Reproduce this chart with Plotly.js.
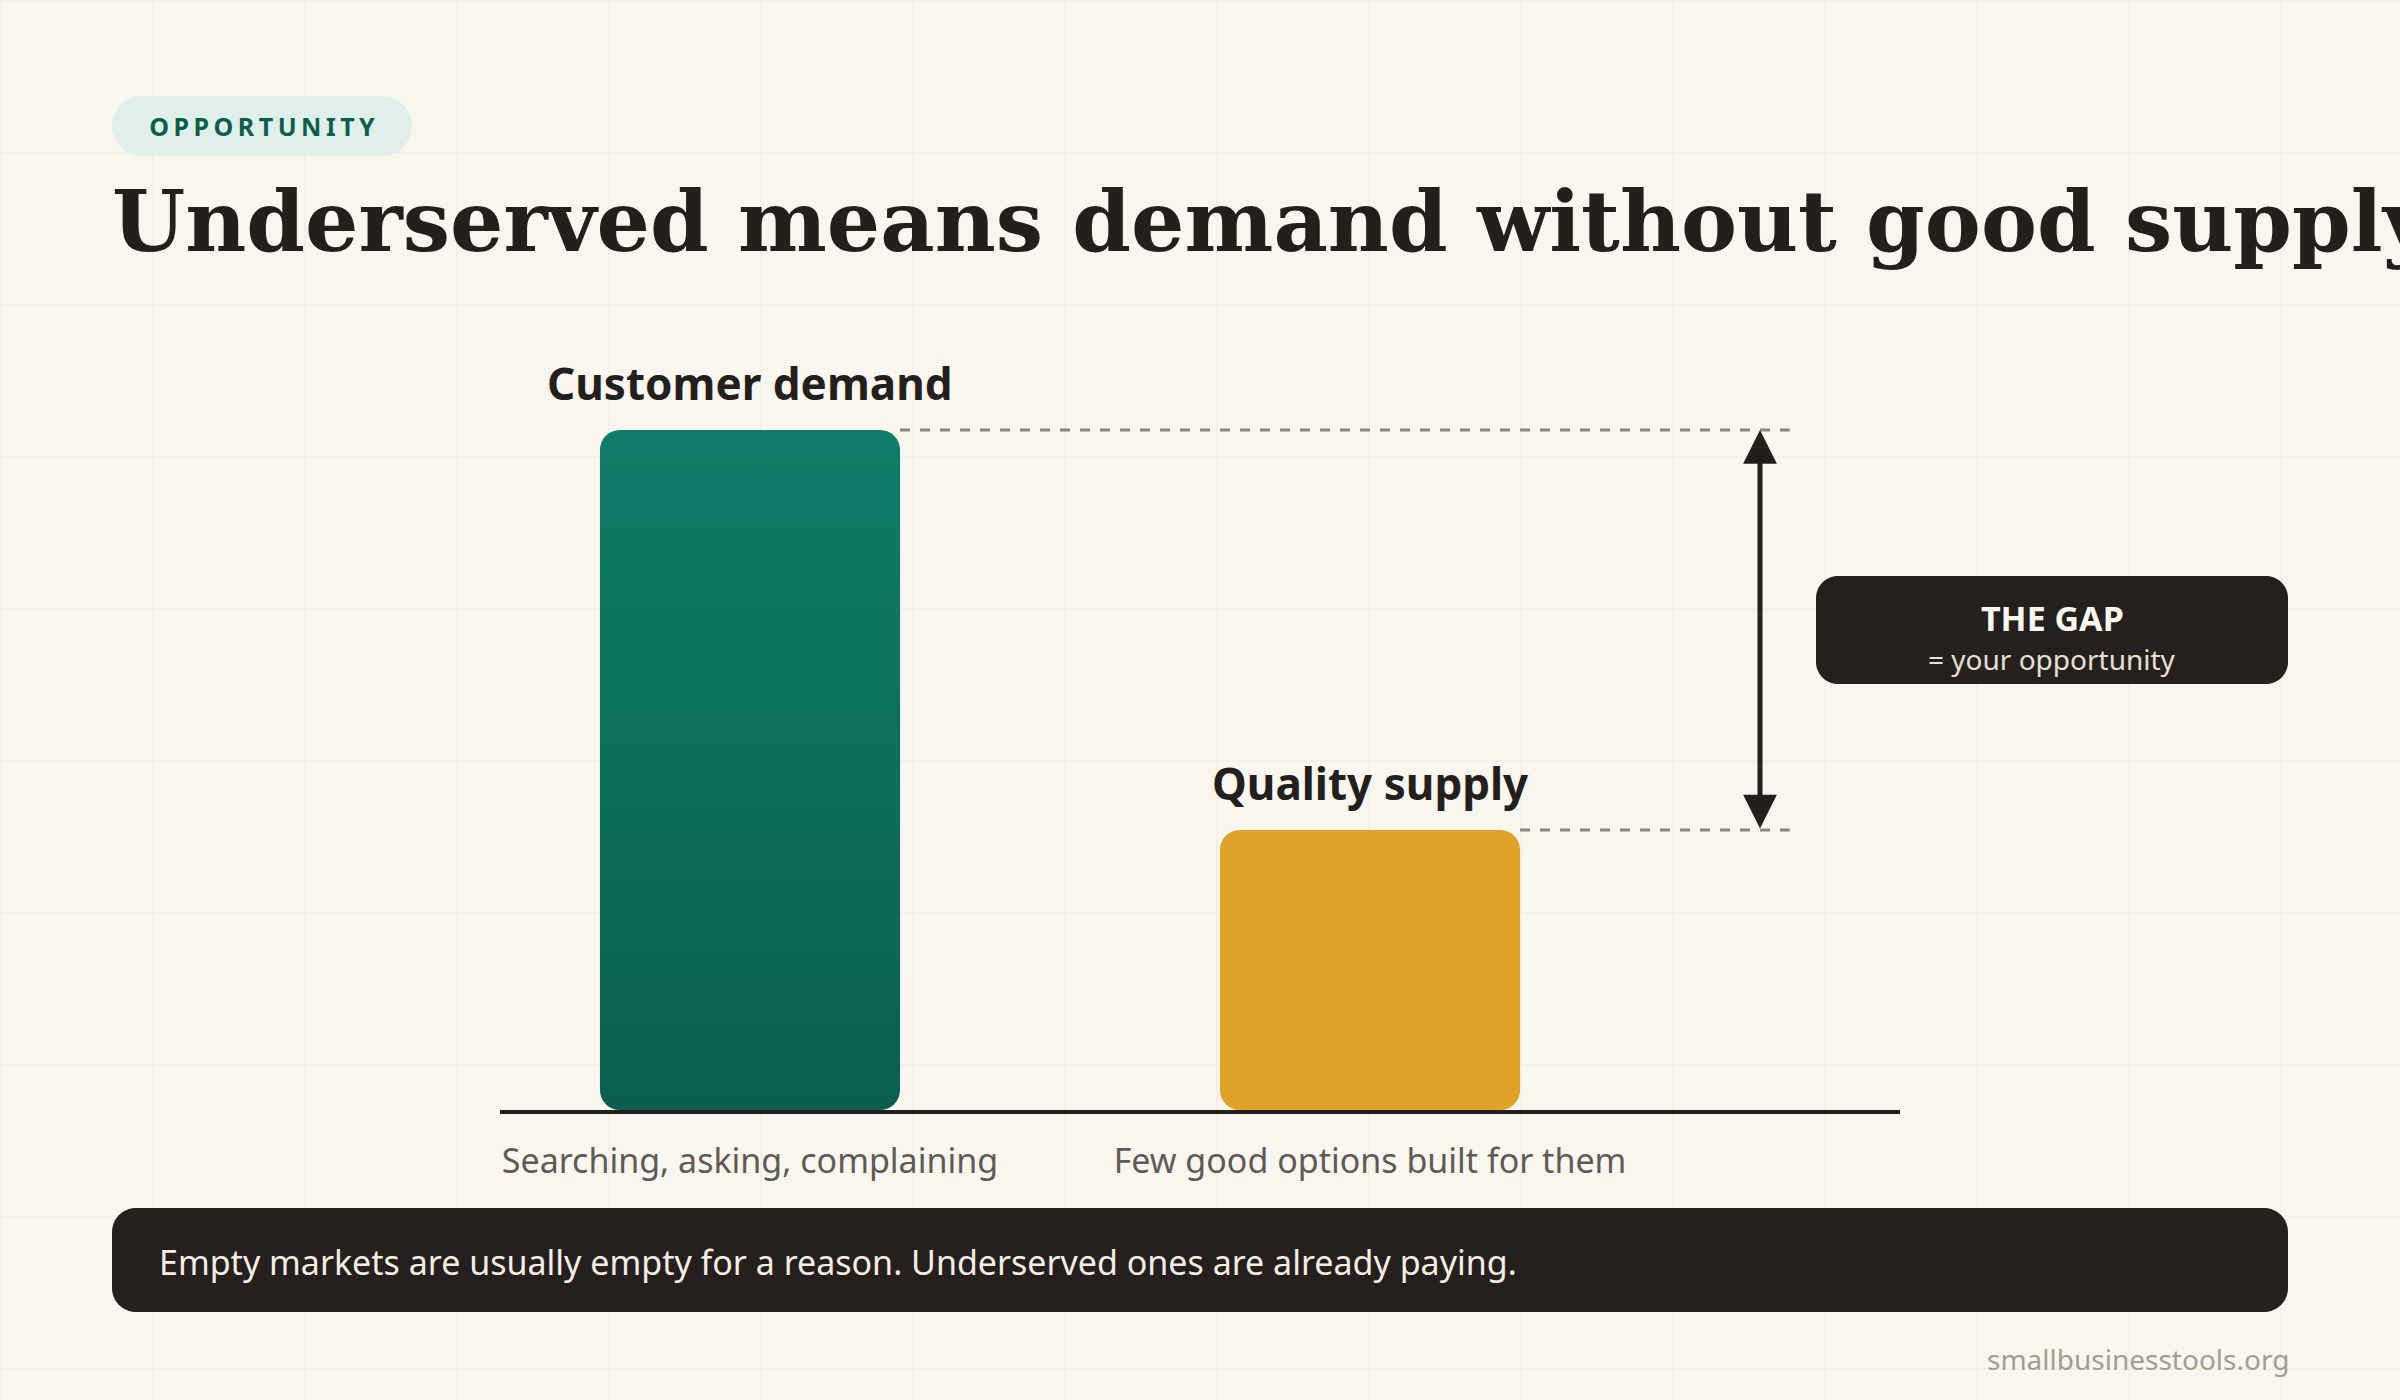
<!DOCTYPE html>
<html>
<head>
<meta charset="utf-8">
<script src="https://cdn.plot.ly/plotly-3.0.1.min.js"></script>
<style>
  html, body { margin: 0; padding: 0; background: #f9f6ef; }
  #chart { width: 2400px; height: 1400px; }
</style>
</head>
<body>
<div id="chart"></div>
<script>
// Demand vs. quality supply: the gap between them is the opportunity.
const categories = ['Customer demand', 'Quality supply'];
const values = [85, 35];
const descriptions = ['Searching, asking, complaining', 'Few good options built for them'];
const barColors = ['#0d705e', '#e0a32a'];

const kicker = 'OPPORTUNITY';
const headline = 'Underserved means demand without good supply';
const gapTitle = 'THE GAP';
const gapSubtitle = '= your opportunity';
const footnote = 'Empty markets are usually empty for a reason. Underserved ones are already paying.';
const sourceNote = 'smallbusinesstools.org';

// Page geometry (pixels) and helpers to convert page pixels into paper coordinates
const W = 2400, H = 1400;
const M = { l: 500, r: 500, t: 310, b: 290, pad: 0 };
const PW = W - M.l - M.r, PH = H - M.t - M.b;
const px = v => (v - M.l) / PW;
const py = v => (H - M.b - v) / PH;

// Rounded rectangle as a paper-referenced SVG path
function roundRect(x0, y0, x1, y1, r) {
  const k = 0.5523 * r;
  const P = (x, y) => px(x).toFixed(5) + ',' + py(y).toFixed(5);
  return 'M' + P(x0 + r, y0) + ' L' + P(x1 - r, y0) +
    ' C' + P(x1 - r + k, y0) + ' ' + P(x1, y0 + r - k) + ' ' + P(x1, y0 + r) +
    ' L' + P(x1, y1 - r) +
    ' C' + P(x1, y1 - r + k) + ' ' + P(x1 - r + k, y1) + ' ' + P(x1 - r, y1) +
    ' L' + P(x0 + r, y1) +
    ' C' + P(x0 + r - k, y1) + ' ' + P(x0, y1 - r + k) + ' ' + P(x0, y1 - r) +
    ' L' + P(x0, y0 + r) +
    ' C' + P(x0, y0 + r - k) + ' ' + P(x0 + r - k, y0) + ' ' + P(x0 + r, y0) + ' Z';
}

const INK = '#231f1c';
const BOX = '#25201d';
const BAR_W = 0.484;
const X_RANGE = [-0.4032, 1.8548];
const ARROW_X = 1.629;
const GUIDE_END = 1.677;
const KICKER_SPACING = 4.5;

// An explicit base of 0 lets the corner radius apply at both ends of each bar
const data = [{
  type: 'bar', x: categories, y: values, base: 0, width: BAR_W,
  marker: { color: barColors, cornerradius: 20, line: { width: 0 } },
  hoverinfo: 'skip', showlegend: false
}];

// Faint background grid
const gridShapes = [];
const GRID = { color: '#f2eee6', width: 1.5 };
for (let k = 0; k * 152 + 1 < W; k++) {
  const gx = k * 152 + 1;
  gridShapes.push({ type: 'line', xref: 'paper', yref: 'paper', layer: 'below',
    x0: px(gx), x1: px(gx), y0: py(0), y1: py(H), line: GRID });
}
for (let k = 0; k * 152 + 1 < H; k++) {
  const gy = k * 152 + 1;
  gridShapes.push({ type: 'line', xref: 'paper', yref: 'paper', layer: 'below',
    x0: px(0), x1: px(W), y0: py(gy), y1: py(gy), line: GRID });
}

const shapes = gridShapes.concat([
  // kicker pill
  { type: 'path', xref: 'paper', yref: 'paper', path: roundRect(112, 96, 412, 156, 30),
    fillcolor: '#dff0ea', line: { width: 0 } },
  // gap callout box
  { type: 'path', xref: 'paper', yref: 'paper', path: roundRect(1816, 576, 2288, 684, 22),
    fillcolor: BOX, line: { width: 0 } },
  // footnote banner
  { type: 'path', xref: 'paper', yref: 'paper', path: roundRect(112, 1208, 2288, 1312, 24),
    fillcolor: BOX, line: { width: 0 } },
  // dashed guides from each bar top to the gap arrow
  { type: 'line', xref: 'x', yref: 'y', x0: 0 + BAR_W / 2, x1: GUIDE_END, y0: values[0], y1: values[0],
    line: { color: '#8a8680', width: 3, dash: '10px,10px' } },
  { type: 'line', xref: 'x', yref: 'y', x0: 1 + BAR_W / 2, x1: GUIDE_END, y0: values[1], y1: values[1],
    line: { color: '#8a8680', width: 3, dash: '10px,10px' } }
]);

const annotations = [
  // kicker text, centred in the pill (letter-spacing is applied after drawing)
  { xref: 'paper', yref: 'paper', x: px(262.5 + KICKER_SPACING / 2), y: py(126.5),
    xanchor: 'center', yanchor: 'middle',
    text: kicker, showarrow: false, borderpad: 0,
    font: { family: 'Noto Sans', size: 25, weight: 700, color: '#0b5e4a' } },
  // bar labels sit just above each bar
  ...categories.map((c, i) => ({
    xref: 'x', yref: 'y', x: c, y: values[i], xanchor: 'center', yanchor: 'bottom', yshift: 16,
    text: c, showarrow: false, borderpad: 0,
    font: { family: 'Noto Sans', size: 44, weight: 700, color: INK }
  })),
  // double-headed arrow spanning the gap
  { xref: 'x', yref: 'y', axref: 'x', ayref: 'y', x: ARROW_X, y: values[0], ax: ARROW_X, ay: values[1],
    text: '', showarrow: true, arrowside: 'end+start', arrowhead: 2, startarrowhead: 2,
    arrowsize: 1.35, startarrowsize: 1.35, arrowwidth: 5, arrowcolor: INK, standoff: 0, startstandoff: 0 },
  { xref: 'paper', yref: 'paper', x: px(2052), y: py(618), xanchor: 'center', yanchor: 'middle',
    text: gapTitle, showarrow: false, borderpad: 0,
    font: { family: 'Noto Sans', size: 34, weight: 700, color: '#fbf8f2' } },
  { xref: 'paper', yref: 'paper', x: px(2052), y: py(659), xanchor: 'center', yanchor: 'middle',
    text: gapSubtitle, showarrow: false, borderpad: 0,
    font: { family: 'Noto Sans', size: 28, color: '#e6e0d5' } },
  { xref: 'paper', yref: 'paper', x: px(158), y: py(1261.5), xanchor: 'left', yanchor: 'middle',
    text: footnote, showarrow: false, borderpad: 0,
    font: { family: 'Noto Sans', size: 34, color: '#f4efe6' } },
  { xref: 'paper', yref: 'paper', x: px(2290), y: py(1359), xanchor: 'right', yanchor: 'middle',
    text: sourceNote, showarrow: false, borderpad: 0,
    font: { family: 'Noto Sans', size: 28, color: '#a39d93' } }
];

const layout = {
  width: W, height: H, margin: M,
  paper_bgcolor: '#f9f6ef', plot_bgcolor: 'rgba(0,0,0,0)',
  barmode: 'overlay', showlegend: false,
  font: { family: 'Noto Sans, sans-serif', color: INK },
  title: {
    text: headline, xref: 'container', yref: 'container',
    x: 112 / W, xanchor: 'left', y: 1 - 222 / H, yanchor: 'middle',
    font: { family: 'DejaVu Serif', size: 84, weight: 700, color: INK }
  },
  xaxis: {
    type: 'category', range: X_RANGE, tickvals: categories, ticktext: descriptions,
    showline: true, linecolor: INK, linewidth: 4, ticks: '', showgrid: false, zeroline: false,
    tickfont: { family: 'Noto Sans', size: 34, color: '#5f5a55' }, ticklabelstandoff: 18,
    fixedrange: true
  },
  yaxis: { range: [0, 100], visible: false, fixedrange: true },
  shapes: shapes,
  annotations: annotations
};

Plotly.newPlot('chart', data, layout, { displayModeBar: false, staticPlot: true }).then(gd => {
  // tracked-out kicker lettering
  gd.querySelectorAll('.annotation-text').forEach(t => {
    if (t.textContent === kicker) t.style.letterSpacing = KICKER_SPACING + 'px';
  });
  // vertical gradient on the demand bar
  const NS = 'http://www.w3.org/2000/svg';
  const svg = gd.querySelector('svg.main-svg');
  let defs = svg.querySelector('defs');
  if (!defs) { defs = document.createElementNS(NS, 'defs'); svg.insertBefore(defs, svg.firstChild); }
  const ya = gd._fullLayout.yaxis;
  const grad = document.createElementNS(NS, 'linearGradient');
  grad.setAttribute('id', 'demandFill');
  grad.setAttribute('gradientUnits', 'userSpaceOnUse');
  grad.setAttribute('x1', 0); grad.setAttribute('x2', 0);
  grad.setAttribute('y1', ya.c2p(values[0])); grad.setAttribute('y2', ya.c2p(0));
  [['0', '#0f7d69'], ['1', '#0a5f50']].forEach(([o, c]) => {
    const s = document.createElementNS(NS, 'stop');
    s.setAttribute('offset', o); s.setAttribute('stop-color', c);
    grad.appendChild(s);
  });
  defs.appendChild(grad);
  const firstBar = gd.querySelector('.barlayer .trace .point path');
  if (firstBar) firstBar.style.fill = 'url(#demandFill)';
});
</script>
</body>
</html>
